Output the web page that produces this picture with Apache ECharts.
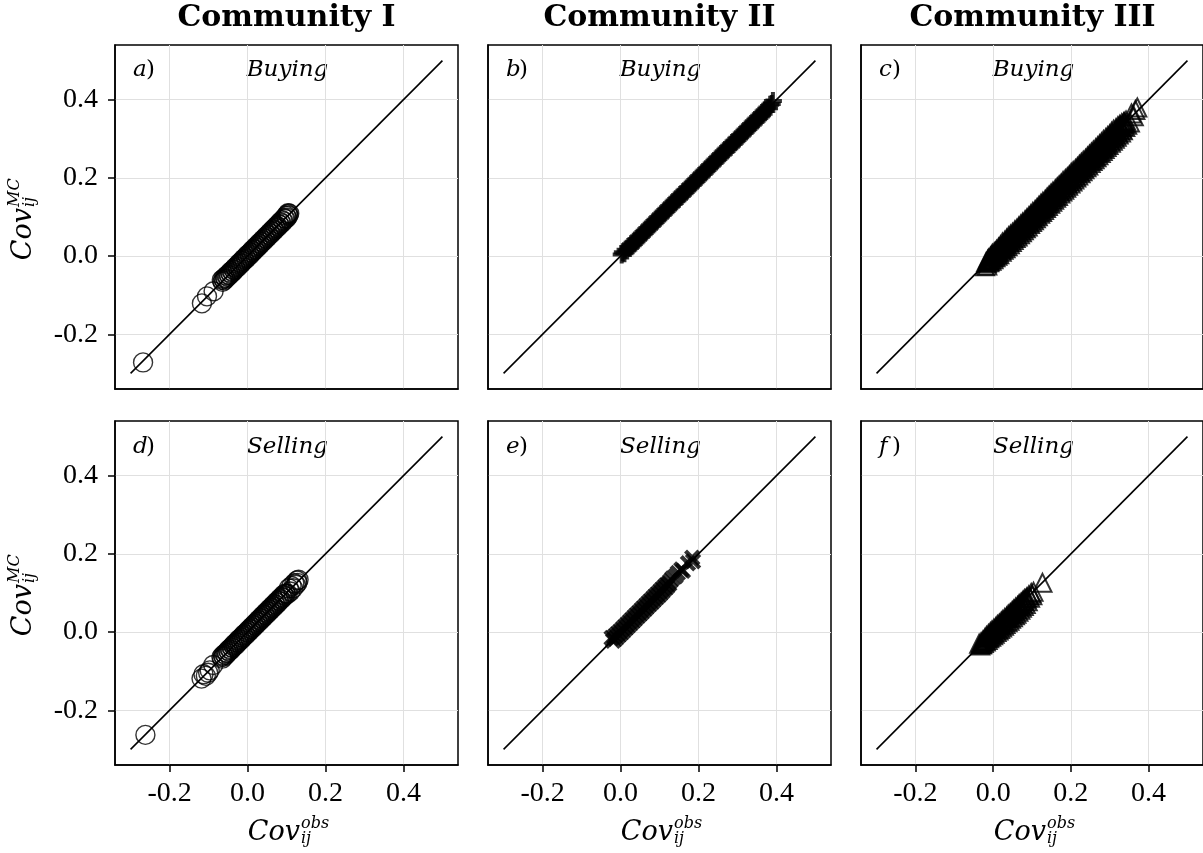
<!DOCTYPE html>
<html><head><meta charset="utf-8">
<script src="https://cdn.jsdelivr.net/npm/echarts@6/dist/echarts.min.js"></script>
<style>html,body{margin:0;padding:0;background:#fff}#c{width:1203px;height:853px}</style>
</head><body><div id="c"></div>
<script>
// ---- labels ----
const communities = ['Community I', 'Community II', 'Community III'];
const panelLetters = ['a', 'b', 'c', 'd', 'e', 'f'];
const activities = ['Buying', 'Selling'];
const tickValues = [-0.2, 0.0, 0.2, 0.4];
const axisRange = [-0.34, 0.54];
const diagonal = [-0.3, 0.5];

// ---- data: [Cov_obs, Cov_MC] ----
const buyI = [
 [-0.268,-0.272],[-0.117,-0.121],[-0.104,-0.103],[-0.087,-0.090],
 [-0.066,-0.061],[-0.064,-0.066],[-0.062,-0.058],[-0.060,-0.062],[-0.058,-0.055],[-0.056,-0.058],[-0.054,-0.050],[-0.051,-0.053],
 [-0.049,-0.047],[-0.047,-0.049],[-0.045,-0.042],[-0.043,-0.045],[-0.041,-0.038],[-0.038,-0.041],[-0.036,-0.034],[-0.034,-0.036],
 [-0.032,-0.029],[-0.030,-0.032],[-0.027,-0.025],[-0.025,-0.028],[-0.023,-0.020],[-0.021,-0.023],[-0.019,-0.016],[-0.016,-0.019],
 [-0.014,-0.012],[-0.012,-0.014],[-0.010,-0.007],[-0.008,-0.010],[-0.005,-0.003],[-0.003,-0.006],[-0.001,0.002],[0.001,-0.001],
 [0.004,0.006],[0.006,0.003],[0.008,0.010],[0.010,0.008],[0.012,0.015],[0.015,0.012],[0.017,0.019],[0.019,0.017],
 [0.021,0.024],[0.024,0.021],[0.026,0.028],[0.028,0.026],[0.030,0.033],[0.033,0.030],[0.035,0.037],[0.037,0.035],
 [0.039,0.042],[0.042,0.039],[0.044,0.046],[0.046,0.044],[0.048,0.051],[0.051,0.048],[0.053,0.055],[0.055,0.053],
 [0.057,0.060],[0.060,0.057],[0.062,0.064],[0.064,0.062],[0.066,0.069],[0.069,0.066],[0.071,0.073],[0.073,0.071],
 [0.075,0.078],[0.078,0.075],[0.080,0.082],[0.082,0.080],[0.084,0.087],[0.087,0.084],[0.089,0.092],[0.092,0.089],
 [0.094,0.097],[0.097,0.095],[0.099,0.103],[0.101,0.098],[0.103,0.107],[0.105,0.104],[0.107,0.109],[0.104,0.110]
];
const buyII = [
 [0.003,0.004],[0.006,0.010],[0.010,0.007],[0.013,0.016],[0.017,0.014],[0.020,0.023],[0.024,0.021],[0.027,0.030],
 [0.031,0.028],[0.034,0.037],[0.038,0.035],[0.041,0.044],[0.045,0.042],[0.048,0.051],[0.052,0.049],[0.055,0.058],
 [0.059,0.056],[0.062,0.065],[0.066,0.063],[0.069,0.072],[0.073,0.070],[0.076,0.079],[0.080,0.077],[0.083,0.086],
 [0.087,0.084],[0.090,0.093],[0.094,0.091],[0.097,0.100],[0.101,0.098],[0.104,0.107],[0.108,0.105],[0.111,0.114],
 [0.115,0.112],[0.118,0.121],[0.122,0.119],[0.125,0.128],[0.129,0.126],[0.132,0.135],[0.136,0.133],[0.139,0.142],
 [0.143,0.140],[0.146,0.149],[0.150,0.147],[0.153,0.156],[0.157,0.154],[0.160,0.163],[0.164,0.161],[0.167,0.170],
 [0.171,0.168],[0.174,0.177],[0.178,0.175],[0.181,0.184],[0.185,0.182],[0.188,0.191],[0.192,0.189],[0.195,0.198],
 [0.199,0.196],[0.202,0.205],[0.206,0.203],[0.209,0.212],[0.213,0.210],[0.216,0.219],[0.220,0.217],[0.223,0.226],
 [0.227,0.224],[0.230,0.233],[0.234,0.231],[0.237,0.240],[0.241,0.238],[0.244,0.247],[0.248,0.245],[0.251,0.254],
 [0.255,0.252],[0.258,0.261],[0.262,0.259],[0.265,0.268],[0.269,0.266],[0.272,0.275],[0.276,0.273],[0.279,0.282],
 [0.283,0.280],[0.286,0.289],[0.290,0.287],[0.293,0.296],[0.297,0.294],[0.300,0.303],[0.304,0.301],[0.307,0.310],
 [0.311,0.308],[0.314,0.317],[0.318,0.315],[0.321,0.324],[0.325,0.322],[0.328,0.331],[0.332,0.329],[0.335,0.338],
 [0.339,0.336],[0.342,0.345],[0.346,0.343],[0.349,0.352],[0.353,0.350],[0.356,0.359],[0.360,0.357],[0.363,0.366],
 [0.367,0.364],[0.370,0.373],[0.374,0.371],[0.377,0.380],[0.381,0.378],[0.384,0.387],[0.388,0.389],[0.391,0.397]
];
const buyIII = [
 [-0.021,-0.026],[-0.018,-0.015],[-0.015,-0.024],[-0.012,-0.006],[-0.010,-0.016],[-0.007,-0.001],[-0.004,-0.012],[-0.002,0.006],
 [0.001,-0.008],[0.003,0.010],[0.006,-0.003],[0.009,0.016],[0.011,0.001],[0.014,0.022],[0.016,0.005],[0.019,0.028],
 [0.022,0.011],[0.024,0.035],[0.027,0.016],[0.030,0.039],[0.032,0.020],[0.035,0.045],[0.037,0.025],[0.040,0.051],
 [0.043,0.030],[0.045,0.055],[0.048,0.036],[0.050,0.060],[0.053,0.041],[0.056,0.066],[0.058,0.046],[0.061,0.070],
 [0.063,0.050],[0.066,0.076],[0.069,0.056],[0.071,0.081],[0.074,0.061],[0.076,0.086],[0.079,0.066],[0.082,0.092],
 [0.084,0.071],[0.087,0.097],[0.089,0.076],[0.092,0.102],[0.095,0.082],[0.097,0.107],[0.100,0.087],[0.102,0.113],
 [0.105,0.092],[0.108,0.118],[0.110,0.097],[0.113,0.123],[0.115,0.102],[0.118,0.129],[0.121,0.108],[0.123,0.134],
 [0.126,0.113],[0.128,0.139],[0.131,0.118],[0.134,0.144],[0.136,0.123],[0.139,0.150],[0.141,0.128],[0.144,0.155],
 [0.147,0.134],[0.149,0.160],[0.152,0.139],[0.154,0.165],[0.157,0.144],[0.160,0.171],[0.162,0.149],[0.165,0.176],
 [0.167,0.154],[0.170,0.181],[0.173,0.160],[0.175,0.186],[0.178,0.165],[0.180,0.192],[0.183,0.170],[0.186,0.197],
 [0.188,0.175],[0.191,0.202],[0.193,0.180],[0.196,0.207],[0.199,0.186],[0.201,0.213],[0.204,0.191],[0.206,0.218],
 [0.209,0.196],[0.212,0.223],[0.214,0.201],[0.217,0.228],[0.219,0.206],[0.222,0.234],[0.225,0.212],[0.227,0.239],
 [0.230,0.217],[0.232,0.244],[0.235,0.222],[0.238,0.249],[0.240,0.227],[0.243,0.255],[0.245,0.232],[0.248,0.260],
 [0.251,0.238],[0.253,0.265],[0.256,0.243],[0.258,0.270],[0.261,0.248],[0.264,0.276],[0.266,0.253],[0.269,0.281],
 [0.271,0.258],[0.274,0.286],[0.277,0.264],[0.279,0.291],[0.282,0.269],[0.284,0.297],[0.287,0.274],[0.290,0.302],
 [0.292,0.279],[0.295,0.307],[0.297,0.284],[0.300,0.312],[0.303,0.290],[0.305,0.318],[0.308,0.295],[0.310,0.323],
 [0.313,0.300],[0.316,0.327],[0.318,0.305],[0.321,0.332],[0.323,0.311],[0.326,0.336],[0.329,0.316],[0.331,0.340],
 [0.334,0.322],[0.337,0.344],[0.340,0.330],[0.342,0.347],[0.345,0.336],[0.352,0.342],[0.356,0.365],[0.362,0.358],
 [0.366,0.374],[0.371,0.380],
 [-0.016,-0.018],[-0.011,-0.010],[-0.006,-0.007],[-0.001,0.001],[0.004,0.003],[0.009,0.010],[0.014,0.012],[0.019,0.020],
 [0.024,0.023],[0.029,0.031],[0.034,0.033],[0.039,0.040],[0.044,0.042],[0.049,0.050],[0.054,0.053],[0.059,0.061],
 [0.064,0.063],[0.069,0.070],[0.074,0.072],[0.079,0.080],[0.084,0.083],[0.089,0.091],[0.094,0.093],[0.099,0.100],
 [0.104,0.102],[0.109,0.110],[0.114,0.113],[0.119,0.121],[0.124,0.123],[0.129,0.130],[0.134,0.132],[0.139,0.140],
 [0.144,0.143],[0.149,0.151],[0.154,0.153],[0.159,0.160],[0.164,0.162],[0.169,0.170],[0.174,0.173],[0.179,0.181],
 [0.184,0.183],[0.189,0.190],[0.194,0.192],[0.199,0.200],[0.204,0.203],[0.209,0.211],[0.214,0.213],[0.219,0.220],
 [0.224,0.222],[0.229,0.230],[0.234,0.233],[0.239,0.241],[0.244,0.243],[0.249,0.250],[0.254,0.252],[0.259,0.260],
 [0.264,0.263],[0.269,0.271],[0.274,0.273],[0.279,0.280],[0.284,0.282],[0.289,0.290],[0.294,0.293],[0.299,0.301],
 [0.304,0.303],[0.309,0.310],[0.314,0.312],[0.319,0.320],[0.324,0.323],[0.329,0.331],[0.334,0.333],[0.339,0.340],
 [-0.014,-0.010],[-0.009,-0.013],[-0.004,0.001],[0.001,-0.003],[0.006,0.011],[0.011,0.006],[0.016,0.021],[0.021,0.016],
 [0.026,0.031],[0.031,0.026],[0.036,0.041],[0.041,0.036],[0.046,0.051],[0.051,0.046],[0.056,0.061],[0.061,0.056],
 [0.066,0.071],[0.071,0.066],[0.076,0.081],[0.081,0.076],[0.086,0.091],[0.091,0.086],[0.096,0.101],[0.101,0.096],
 [0.106,0.111],[0.111,0.106],[0.116,0.121],[0.121,0.116],[0.126,0.131],[0.131,0.126],[0.136,0.141],[0.141,0.136],
 [0.146,0.151],[0.151,0.146],[0.156,0.161],[0.161,0.156],[0.166,0.171],[0.171,0.166],[0.176,0.181],[0.181,0.176],
 [0.186,0.191],[0.191,0.186],[0.196,0.201],[0.201,0.196],[0.206,0.211],[0.211,0.206],[0.216,0.221],[0.221,0.216],
 [0.226,0.231],[0.231,0.226],[0.236,0.241],[0.241,0.236],[0.246,0.251],[0.251,0.246],[0.256,0.261],[0.261,0.256],
 [0.266,0.271],[0.271,0.266],[0.276,0.281],[0.281,0.276],[0.286,0.291],[0.291,0.286],[0.296,0.301],[0.301,0.296],
 [0.306,0.311],[0.311,0.306],[0.316,0.321],[0.321,0.316],[0.326,0.331],[0.331,0.326],[0.336,0.341]
];
const sellI = [
 [-0.262,-0.263],[-0.118,-0.119],[-0.113,-0.108],[-0.107,-0.112],[-0.101,-0.104],[-0.097,-0.098],[-0.088,-0.084],
 [-0.067,-0.064],[-0.065,-0.068],[-0.063,-0.060],[-0.061,-0.063],[-0.059,-0.056],[-0.056,-0.059],[-0.054,-0.052],[-0.052,-0.054],
 [-0.050,-0.047],[-0.048,-0.050],[-0.046,-0.043],[-0.043,-0.046],[-0.041,-0.039],[-0.039,-0.041],[-0.037,-0.034],[-0.035,-0.037],
 [-0.033,-0.030],[-0.030,-0.033],[-0.028,-0.026],[-0.026,-0.028],[-0.024,-0.021],[-0.022,-0.024],[-0.020,-0.017],[-0.017,-0.020],
 [-0.015,-0.013],[-0.013,-0.015],[-0.011,-0.008],[-0.009,-0.011],[-0.007,-0.004],[-0.004,-0.007],[-0.002,0.000],[0.000,-0.002],
 [0.002,0.005],[0.005,0.002],[0.007,0.009],[0.009,0.007],[0.011,0.014],[0.014,0.011],[0.016,0.018],[0.018,0.016],
 [0.020,0.023],[0.023,0.020],[0.025,0.027],[0.027,0.025],[0.029,0.032],[0.032,0.029],[0.034,0.036],[0.036,0.034],
 [0.038,0.041],[0.041,0.038],[0.043,0.045],[0.045,0.043],[0.047,0.050],[0.050,0.047],[0.052,0.054],[0.054,0.052],
 [0.056,0.059],[0.059,0.056],[0.061,0.063],[0.063,0.061],[0.065,0.068],[0.068,0.065],[0.070,0.072],[0.072,0.070],
 [0.074,0.077],[0.077,0.074],[0.079,0.081],[0.081,0.079],[0.083,0.086],[0.086,0.083],[0.088,0.090],[0.090,0.088],
 [0.092,0.095],[0.095,0.092],[0.097,0.099],[0.099,0.097],[0.103,0.098],[0.106,0.112],[0.110,0.104],[0.113,0.118],
 [0.117,0.112],[0.120,0.125],[0.124,0.121],[0.127,0.132],[0.131,0.134],[0.128,0.126]
];
const sellII = [
 [-0.023,-0.015],[-0.019,-0.022],[-0.016,-0.012],[-0.013,-0.017],[-0.010,-0.006],[-0.007,-0.011],[-0.004,-0.001],[-0.001,-0.005],
 [0.002,0.005],[0.005,0.001],[0.008,0.011],[0.011,0.007],[0.014,0.017],[0.017,0.013],[0.020,0.023],[0.023,0.019],
 [0.026,0.029],[0.029,0.025],[0.032,0.035],[0.035,0.031],[0.038,0.041],[0.041,0.037],[0.044,0.047],[0.047,0.043],
 [0.050,0.053],[0.053,0.049],[0.056,0.059],[0.059,0.055],[0.062,0.065],[0.065,0.061],[0.068,0.071],[0.071,0.067],
 [0.074,0.077],[0.077,0.073],[0.080,0.083],[0.083,0.079],[0.086,0.089],[0.089,0.085],[0.092,0.095],[0.095,0.091],
 [0.098,0.101],[0.101,0.097],[0.104,0.107],[0.107,0.103],[0.110,0.113],[0.113,0.110],[0.116,0.119],[0.119,0.116],
 [0.122,0.124],[0.125,0.123],[0.128,0.131],[0.133,0.137],[0.141,0.143],[0.147,0.151],[0.156,0.160],[0.160,0.157],
 [0.173,0.176],[0.186,0.181],[0.184,0.190]
];
const sellIII = [
 [-0.036,-0.030],[-0.033,-0.034],[-0.031,-0.026],[-0.028,-0.031],[-0.026,-0.021],[-0.024,-0.028],[-0.021,-0.015],[-0.019,-0.024],
 [-0.017,-0.010],[-0.014,-0.020],[-0.012,-0.005],[-0.010,-0.016],[-0.007,0.000],[-0.005,-0.012],[-0.003,0.004],[0.000,-0.008],
 [0.002,0.009],[0.004,-0.004],[0.007,0.013],[0.009,0.000],[0.011,0.018],[0.014,0.004],[0.016,0.022],[0.018,0.008],
 [0.021,0.027],[0.023,0.012],[0.025,0.031],[0.028,0.016],[0.030,0.036],[0.032,0.021],[0.035,0.040],[0.037,0.025],
 [0.039,0.045],[0.042,0.029],[0.044,0.049],[0.046,0.034],[0.049,0.054],[0.051,0.038],[0.053,0.058],[0.056,0.043],
 [0.058,0.063],[0.060,0.047],[0.063,0.067],[0.065,0.052],[0.067,0.072],[0.070,0.057],[0.072,0.076],[0.074,0.062],
 [0.077,0.081],[0.079,0.067],[0.081,0.085],[0.084,0.072],[0.087,0.089],[0.089,0.079],[0.092,0.094],[0.095,0.088],
 [0.098,0.100],[0.101,0.094],[0.104,0.103],[0.127,0.126],
 [-0.030,-0.031],[-0.025,-0.024],[-0.020,-0.021],[-0.015,-0.014],[-0.010,-0.011],[-0.005,-0.004],[0.000,-0.001],[0.005,0.006],
 [0.010,0.009],[0.015,0.016],[0.020,0.019],[0.025,0.026],[0.030,0.029],[0.035,0.036],[0.040,0.039],[0.045,0.046],
 [0.050,0.049],[0.055,0.056],[0.060,0.059],[0.065,0.066],[0.070,0.069],[0.075,0.076],[0.080,0.079],[0.085,0.086]
];

const panelData = [buyI, buyII, buyIII, sellI, sellII, sellIII];

// ---- layout & style ----
const W = 343, H = 344;
const gridLefts = [115, 488, 861];
const gridTops = [45, 421];
const tickFont = '"Liberation Serif", "Times New Roman", serif';
const mathFont = '"DejaVu Serif", serif';
const plusPath = 'path://M7,0H11V7H18V11H11V18H7V11H0V7H7Z';
const markerStyles = [
  { symbol: 'circle', symbolSize: 19, itemStyle: { color: 'rgba(0,0,0,0)', borderColor: '#000', borderWidth: 1.4 } },
  { symbol: plusPath, symbolSize: 18, itemStyle: { color: '#000' } },
  { symbol: 'triangle', symbolSize: 18, itemStyle: { color: 'rgba(0,0,0,0)', borderColor: '#000', borderWidth: 2 } }
];

const grids = [], xAxes = [], yAxes = [], series = [], graphics = [];
for (let i = 0; i < 6; i++) {
  const r = Math.floor(i / 3), c = i % 3;
  grids.push({
    left: gridLefts[c], top: gridTops[r], width: W, height: H,
    show: true, borderColor: '#000', borderWidth: 1.5, backgroundColor: 'rgba(0,0,0,0)',
    containLabel: false
  });
  const splitLine = { show: true, lineStyle: { color: '#e0e0e0', width: 1 } };
  xAxes.push({
    type: 'value', gridIndex: i, min: axisRange[0], max: axisRange[1], position: 'bottom',
    axisLine: { show: true, onZero: false, lineStyle: { color: '#000', width: 1.5 } },
    splitLine: splitLine,
    axisTick: { show: r === 1, inside: false, length: 7, lineStyle: { color: '#000', width: 1.5 }, customValues: tickValues },
    axisLabel: { show: r === 1, customValues: tickValues, formatter: v => v.toFixed(1),
      fontFamily: tickFont, fontSize: 28, color: '#000', margin: 15 }
  });
  yAxes.push({
    type: 'value', gridIndex: i, min: axisRange[0], max: axisRange[1], position: 'left',
    axisLine: { show: true, onZero: false, lineStyle: { color: '#000', width: 1.5 } },
    splitLine: splitLine,
    axisTick: { show: c === 0, inside: false, length: 7, lineStyle: { color: '#000', width: 1.5 }, customValues: tickValues },
    axisLabel: { show: c === 0, customValues: tickValues, formatter: v => v.toFixed(1),
      fontFamily: tickFont, fontSize: 28, color: '#000', margin: 17 }
  });
  series.push({
    type: 'line', xAxisIndex: i, yAxisIndex: i, data: diagonal.map(v => [v, v]),
    symbol: 'none', showSymbol: false, lineStyle: { color: '#000', width: 1.6 }, z: 2, silent: true
  });
  const ms = markerStyles[c];
  series.push({
    type: 'scatter', xAxisIndex: i, yAxisIndex: i, data: panelData[i],
    symbol: ms.symbol, symbolSize: c === 1 && r === 1 ? 19 : ms.symbolSize,
    symbolRotate: c === 1 && r === 1 ? 45 : 0,
    itemStyle: ms.itemStyle, z: 3, silent: true
  });
  // panel texts
  const midY = r === 0 ? 70 : 447;
  graphics.push({ type: 'text', x: gridLefts[c] + 18, y: midY, silent: true,
    style: { text: panelLetters[i], font: 'italic 23px ' + mathFont, fill: '#000', textAlign: 'left', textVerticalAlign: 'middle', align: 'left', verticalAlign: 'middle' } });
  graphics.push({ type: 'text', x: gridLefts[c] + 31, y: midY, silent: true,
    style: { text: ')', font: '23px ' + mathFont, fill: '#000', textAlign: 'left', textVerticalAlign: 'middle', align: 'left', verticalAlign: 'middle' } });
  graphics.push({ type: 'text', x: gridLefts[c] + W / 2 + 1, y: midY, silent: true,
    style: { text: activities[r], font: 'italic 23px ' + mathFont, fill: '#000', textAlign: 'center', textVerticalAlign: 'middle', align: 'center', verticalAlign: 'middle' } });
}

function txt(x, y, text, font, align) {
  return { type: 'text', x: x, y: y, silent: true,
    style: { text: text, font: font, fill: '#000', textAlign: align, textVerticalAlign: 'middle', align: align, verticalAlign: 'middle' } };
}
function covLabel(x, y, sup, rotated) {
  return { type: 'group', x: x, y: y, rotation: rotated ? Math.PI / 2 : 0, silent: true, children: [
    txt(0, -9, 'Cov', 'italic 27px ' + mathFont, 'right'),
    txt(1, -18, sup, 'italic 16px ' + mathFont, 'left'),
    txt(1, -3, 'ij', 'italic 16px ' + mathFont, 'left')
  ] };
}
for (let c = 0; c < 3; c++) {
  graphics.push(txt(gridLefts[c] + W / 2, 18, communities[c], 'bold 30px ' + mathFont, 'center'));
  graphics.push(covLabel(gridLefts[c] + W / 2 + 13.5, 842, 'obs', false));
}
for (let r = 0; r < 2; r++) {
  graphics.push(covLabel(33, gridTops[r] + 163, 'MC', true));
}

const chart = echarts.init(document.getElementById('c'), null, { renderer: 'canvas' });
chart.setOption({
  animation: false,
  backgroundColor: '#fff',
  grid: grids, xAxis: xAxes, yAxis: yAxes, series: series,
  graphic: { elements: graphics }
});
</script>
</body></html>
